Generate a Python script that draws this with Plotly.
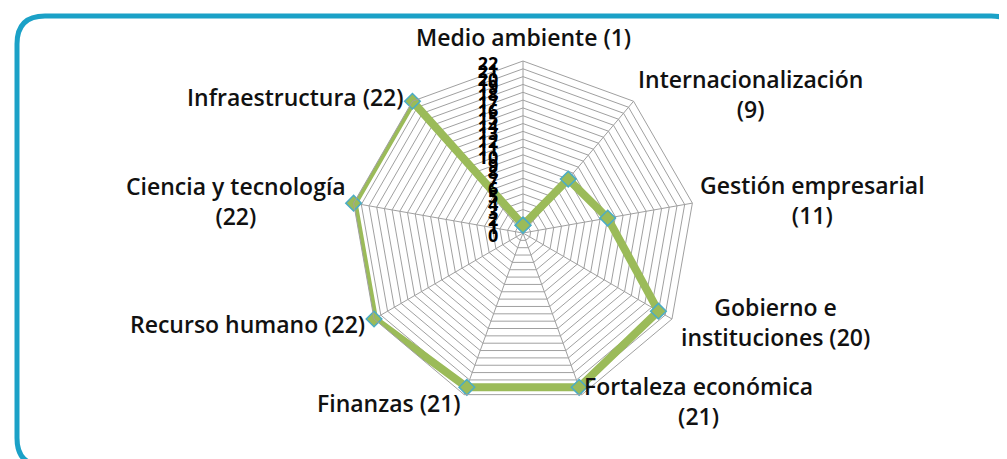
import plotly.graph_objects as go

categories = ["Medio ambiente (1)", "Internacionalización (9)", "Gestión empresarial (11)",
              "Gobierno e instituciones (20)", "Fortaleza económica (21)", "Finanzas (21)",
              "Recurso humano (22)", "Ciencia y tecnología (22)", "Infraestructura (22)"]
label_text = ["Medio ambiente (1)", "Internacionalización<br>(9)", "Gestión empresarial<br>(11)",
              "Gobierno e<br>instituciones (20)", "Fortaleza económica<br>(21)", "Finanzas (21)",
              "Recurso humano (22)", "Ciencia y tecnología<br>(22)", "Infraestructura (22)"]
values = [1, 9, 11, 20, 21, 21, 22, 22, 22]
radial_ticks = list(range(0, 23))

W, H = 1007, 459
cx, cy, R = 515, 225, 172
# label block centres (pixels)
label_pos = [(515, 29), (742, 86), (804, 192), (767, 314), (690, 393),
             (381, 395), (239, 316), (228, 193), (287, 89)]

FONT = "Open Sans"

fig = go.Figure()
fig.add_trace(go.Scatterpolar(
    r=values + values[:1], theta=categories + categories[:1], mode="lines+markers",
    line=dict(color="#9BBB59", width=8),
    marker=dict(symbol="diamond", size=12, color="#9BBB59", line=dict(color="#4BACC6", width=1.5)),
    showlegend=False, cliponaxis=False))

def px(x): return x / W
def py(y): return 1 - y / H

x0, x1, y0, y1, rr = 9, 1011, 8, 458, 28
path = (f"M {px(x0+rr)},{py(y0)} L {px(x1-rr)},{py(y0)} Q {px(x1)},{py(y0)} {px(x1)},{py(y0+rr)} "
        f"L {px(x1)},{py(y1-rr)} Q {px(x1)},{py(y1)} {px(x1-rr)},{py(y1)} "
        f"L {px(x0+rr)},{py(y1)} Q {px(x0)},{py(y1)} {px(x0)},{py(y1-rr)} "
        f"L {px(x0)},{py(y0+rr)} Q {px(x0)},{py(y0)} {px(x0+rr)},{py(y0)} Z")

annotations = [dict(text=t, x=px(x), y=py(y), xref="paper", yref="paper", showarrow=False,
                    xanchor="center", yanchor="middle", align="center",
                    font=dict(family=FONT, size=23, color="#111", weight=600))
               for t, (x, y) in zip(label_text, label_pos)]

fig.update_layout(
    width=W, height=H, margin=dict(l=0, r=0, t=0, b=0),
    paper_bgcolor="white", plot_bgcolor="white",
    font=dict(family=FONT, size=19, color="#111"),
    shapes=[dict(type="path", path=path, xref="paper", yref="paper",
                 line=dict(color="#1BA1C7", width=5), fillcolor="rgba(0,0,0,0)")],
    annotations=annotations,
    polar=dict(
        domain=dict(x=[(cx - R) / W, (cx + R) / W], y=[(H - cy - R) / H, (H - cy + R) / H]),
        bgcolor="white", gridshape="linear",
        angularaxis=dict(direction="clockwise", rotation=90, showline=True,
                         linecolor="#A0A0A0", gridcolor="#A0A0A0", gridwidth=1,
                         showticklabels=False, ticks=""),
        radialaxis=dict(range=[0, 22], tickvals=radial_ticks, ticktext=[str(v) for v in radial_ticks],
                        angle=90, side="counterclockwise", showline=False,
                        gridcolor="#A0A0A0", gridwidth=1,
                        ticks="outside", ticklen=8, tickcolor="rgba(0,0,0,0)",
                        tickfont=dict(family=FONT, size=18, color="#000", weight="bold")),
    ),
)
fig.write_html("out.html")
